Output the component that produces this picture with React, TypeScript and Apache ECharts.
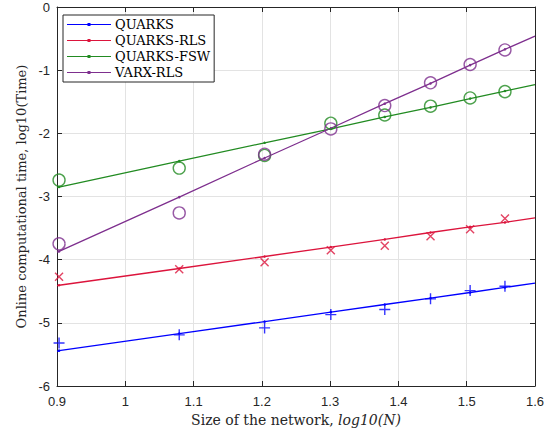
import React, { useEffect, useRef } from "react";
import * as echarts from "echarts";

// log10(N) for N = 8, 12, 16, 20, 24, 28, 32, 36
const xData = [0.903, 1.079, 1.204, 1.301, 1.38, 1.447, 1.505, 1.556];

// measured values
const quarks = [-5.32, -5.19, -5.08, -4.87, -4.79, -4.62, -4.49, -4.42];
const quarksRls = [-4.27, -4.15, -4.04, -3.85, -3.78, -3.63, -3.52, -3.35];
const quarksFsw = [-2.74, -2.55, -2.35, -1.84, -1.71, -1.57, -1.44, -1.34];
const varxRls = [-3.75, -3.26, -2.33, -1.93, -1.56, -1.2, -0.91, -0.68];

// fitted lines (x range ends 0.9 and 1.6, plus data x positions)
const fitX = [0.9, 0.903, 1.079, 1.204, 1.301, 1.38, 1.447, 1.505, 1.556, 1.6];
const quarksFit = [-5.45, -5.44, -5.17, -4.98, -4.83, -4.71, -4.61, -4.52, -4.44, -4.37];
const quarksRlsFit = [-4.41, -4.405, -4.14, -3.95, -3.8, -3.68, -3.57, -3.48, -3.41, -3.34];
const quarksFswFit = [-2.86, -2.85, -2.44, -2.15, -1.93, -1.74, -1.59, -1.45, -1.33, -1.23];
const varxRlsFit = [-3.88, -3.87, -3.01, -2.39, -1.92, -1.53, -1.21, -0.92, -0.67, -0.46];

const names = ["QUARKS", "QUARKS-RLS", "QUARKS-FSW", "VARX-RLS"];
const colors = ["#0000ff", "#dc143c", "#228b22", "#7e2f8e"];

const axisColor = "#262626";
const gridColor = "#e3e3e3";
const serif = "DejaVu Serif";

const PLUS = "path://M0,-1L0,1M-1,0L1,0";
const CROSS = "path://M-1,-1L1,1M-1,1L1,-1";
const LEGEND_ICON =
  "path://M0,1.1L20.5,1.1L20.5,0L23.5,0L23.5,1.1L44,1.1L44,1.9L23.5,1.9L23.5,3L20.5,3L20.5,1.9L0,1.9Z";

export default function App() {
  const ref = useRef<HTMLDivElement>(null);
  useEffect(() => {
    if (!ref.current) return;
    const chart = echarts.init(ref.current, null, { renderer: "svg" });
    const fits = [quarksFit, quarksRlsFit, quarksFswFit, varxRlsFit];
    const meas = [quarks, quarksRls, quarksFsw, varxRls];
    const symbols = [PLUS, CROSS, "circle", "circle"];
    const sizes = [11, 8, 12, 12];

    const lineSeries = names.map((n, i) => ({
      name: n,
      type: "line",
      data: fitX.map((x, j) => [x, fits[i][j]]),
      symbol: "circle",
      symbolSize: (_v: any, p: any) => (p.dataIndex === 0 || p.dataIndex === fitX.length - 1 ? 0 : 2.5),
      showSymbol: true,
      lineStyle: { color: colors[i], width: 1.3 },
      itemStyle: { color: colors[i] },
      z: 3,
      silent: true,
    }));
    const scatterSeries = names.map((n, i) => ({
      name: n + "-meas",
      type: "scatter",
      data: xData.map((x, j) => [x, meas[i][j]]),
      symbol: symbols[i],
      symbolSize: sizes[i],
      itemStyle: {
        color: "rgba(0,0,0,0)",
        borderColor: colors[i],
        borderWidth: 1.4,
      },
      z: 4,
      silent: true,
    }));

    const fmt1 = (v: number) => String(+v.toFixed(1));

    chart.setOption({
      animation: false,
      backgroundColor: "#ffffff",
      grid: { left: 57, right: 19, top: 7, bottom: 46, show: false },
      legend: {
        data: names.map((n) => ({ name: n, icon: LEGEND_ICON })),
        orient: "vertical",
        left: 63,
        top: 15,
        itemWidth: 44,
        itemHeight: 3,
        itemGap: 3,
        backgroundColor: "#ffffff",
        borderColor: axisColor,
        borderWidth: 1,
        borderRadius: 0,
        padding: [3, 4, 3, 4],
        textStyle: {
          fontFamily: serif,
          fontSize: 13,
          color: "#000",
          lineHeight: 13,
          padding: [0, 0, 0, -1],
        },
        selectedMode: false,
      },
      xAxis: [
        {
          type: "value",
          min: 0.9,
          max: 1.6,
          interval: 0.1,
          position: "bottom",
          name: "Size of the network, {i|log10(N)}",
          nameLocation: "middle",
          nameGap: 26,
          nameTextStyle: {
            fontFamily: serif,
            fontSize: 14,
            color: axisColor,
            rich: { i: { fontFamily: serif, fontStyle: "italic", fontSize: 14, color: axisColor } },
          },
          axisLine: { show: true, onZero: false, lineStyle: { color: axisColor, width: 1 } },
          axisTick: { show: true, inside: true, length: 5, lineStyle: { color: axisColor } },
          axisLabel: { formatter: fmt1, fontFamily: "Liberation Sans", fontSize: 13, color: axisColor, margin: 9 },
          splitLine: { show: true, lineStyle: { color: gridColor, width: 1 } },
        },
        {
          type: "value",
          min: 0.9,
          max: 1.6,
          interval: 0.1,
          position: "top",
          axisLine: { show: true, onZero: false, lineStyle: { color: axisColor, width: 1 } },
          axisTick: { show: true, inside: true, length: 5, lineStyle: { color: axisColor } },
          axisLabel: { show: false },
          splitLine: { show: false },
        },
      ],
      yAxis: [
        {
          type: "value",
          min: -6,
          max: 0,
          interval: 1,
          position: "left",
          name: "Online computational time, log10(Time)",
          nameLocation: "middle",
          nameGap: 27,
          nameTextStyle: { fontFamily: serif, fontSize: 13, color: axisColor },
          axisLine: { show: true, onZero: false, lineStyle: { color: axisColor, width: 1 } },
          axisTick: { show: true, inside: true, length: 5, lineStyle: { color: axisColor } },
          axisLabel: { fontFamily: "Liberation Sans", fontSize: 13, color: axisColor, margin: 7 },
          splitLine: { show: true, lineStyle: { color: gridColor, width: 1 } },
        },
        {
          type: "value",
          min: -6,
          max: 0,
          interval: 1,
          position: "right",
          axisLine: { show: true, onZero: false, lineStyle: { color: axisColor, width: 1 } },
          axisTick: { show: true, inside: true, length: 5, lineStyle: { color: axisColor } },
          axisLabel: { show: false },
          splitLine: { show: false },
        },
      ],
      series: [...lineSeries, ...scatterSeries],
    });
    return () => chart.dispose();
  }, []);
  return (
    <div
      ref={ref}
      style={{ position: "fixed", left: 0, top: 0, width: 554, height: 432 }}
    />
  );
}
